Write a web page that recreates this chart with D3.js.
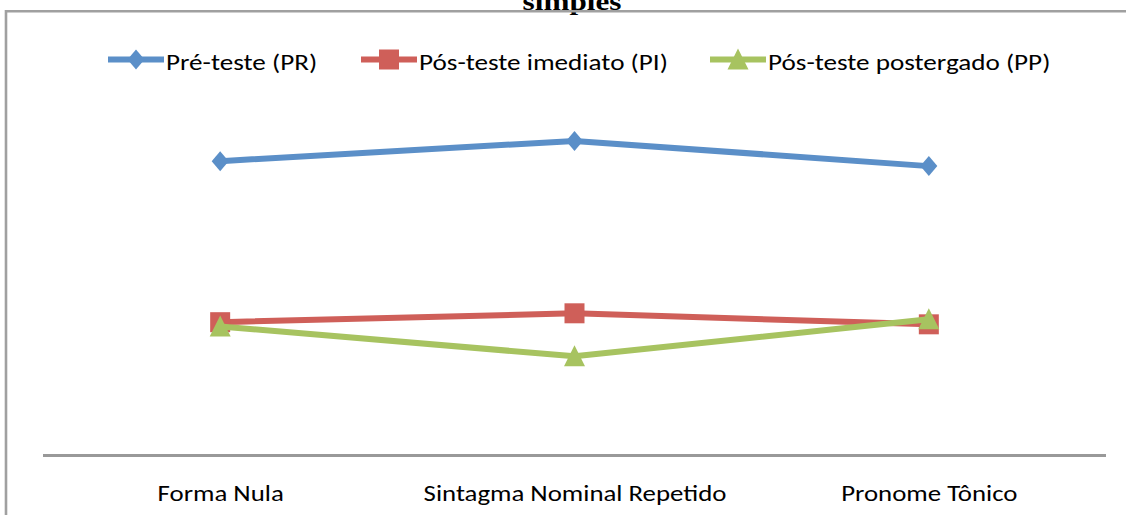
<!DOCTYPE html>
<html>
<head>
<meta charset="utf-8">
<script src="https://cdn.jsdelivr.net/npm/d3@7"></script>
<style>
  html, body { margin: 0; padding: 0; background: #ffffff; }
  svg { display: block; }
</style>
</head>
<body>
<svg id="chart" width="1126" height="515"></svg>
<script>
// Categories on the x axis
const categories = ["Forma Nula", "Sintagma Nominal Repetido", "Pronome Tônico"];

// Series names (legend labels)
const seriesNames = ["Pré-teste (PR)", "Pós-teste imediato (PI)", "Pós-teste postergado (PP)"];

// Values per series (percent)
const preTeste = [82.8, 88.5, 81.4];
const posImediato = [37.5, 40.0, 36.9];
const posPostergado = [36.3, 27.9, 38.3];

const seriesValues = [preTeste, posImediato, posPostergado];
const seriesColors = ["#5b8fc8", "#cf5f59", "#a7c360"];

// Marker shapes (Excel-style diamond, square, triangle)
const diamond = { draw(ctx) { ctx.moveTo(0, -10); ctx.lineTo(8.5, 0); ctx.lineTo(0, 10); ctx.lineTo(-8.5, 0); ctx.closePath(); } };
const square = { draw(ctx) { ctx.rect(-10, -10, 20, 20); } };
const triangle = { draw(ctx) { ctx.moveTo(0, -11); ctx.lineTo(10.5, 10); ctx.lineTo(-10.5, 10); ctx.closePath(); } };
const seriesMarkers = [diamond, square, triangle];

const svg = d3.select("#chart");
const W = 1126, H = 515;
const font = "Carlito, Calibri, Lato, sans-serif";
const axisStretch = 1.22;
const legendStretch = 1.18;

// Title (partially clipped by the top edge)
svg.append("text")
  .attr("transform", "translate(572,10) scale(1.2,1)")
  .attr("text-anchor", "middle")
  .attr("font-family", "'Liberation Serif', 'DejaVu Serif', serif")
  .attr("font-weight", "bold")
  .attr("font-size", 26)
  .attr("fill", "#000")
  .text("simples");

// Outer frame
svg.append("path")
  .attr("d", `M6,${H} L6,11.3 L${W},11.3`)
  .attr("fill", "none")
  .attr("stroke", "#a0a0a0")
  .attr("stroke-width", 2.6);

// Scales
const x = d3.scalePoint().domain(categories).range([43, 1106]).padding(0.5);
const y = d3.scaleLinear().domain([0, 100]).range([455.5, 100]);

// X axis
const xAxis = svg.append("g")
  .attr("transform", `translate(0,${y(0)})`)
  .call(d3.axisBottom(x).tickSize(0).tickPadding(30));
xAxis.select(".domain").attr("d", "M43,0H1106").attr("stroke", "#999999").attr("stroke-width", 3);
xAxis.selectAll("text")
  .attr("font-family", font)
  .attr("font-size", 22)
  .attr("fill", "#000")
  .attr("transform", `scale(${axisStretch},1)`);

// Lines and markers
const line = d3.line()
  .x((d, i) => x(categories[i]))
  .y(d => y(d));

seriesValues.forEach((vals, s) => {
  const g = svg.append("g");
  g.append("path")
    .datum(vals)
    .attr("d", line)
    .attr("fill", "none")
    .attr("stroke", seriesColors[s])
    .attr("stroke-width", 6)
    .attr("stroke-linejoin", "round");
  g.selectAll("path.m")
    .data(vals)
    .join("path")
    .attr("class", "m")
    .attr("transform", (d, i) => `translate(${x(categories[i])},${y(d)})`)
    .attr("d", d3.symbol().type(seriesMarkers[s]))
    .attr("fill", seriesColors[s]);
});

// Legend
const legendX = [108, 361, 710];
const legendY = 59.5;
seriesNames.forEach((name, s) => {
  const g = svg.append("g").attr("transform", `translate(${legendX[s]},${legendY})`);
  g.append("line")
    .attr("x1", 0).attr("x2", 56)
    .attr("stroke", seriesColors[s])
    .attr("stroke-width", 6);
  g.append("path")
    .attr("transform", "translate(28,0)")
    .attr("d", d3.symbol().type(seriesMarkers[s]))
    .attr("fill", seriesColors[s]);
  g.append("text")
    .attr("transform", `translate(58,10.5) scale(${legendStretch},1)`)
    .attr("font-family", font)
    .attr("font-size", 23)
    .attr("fill", "#000")
    .text(name);
});
</script>
</body>
</html>
